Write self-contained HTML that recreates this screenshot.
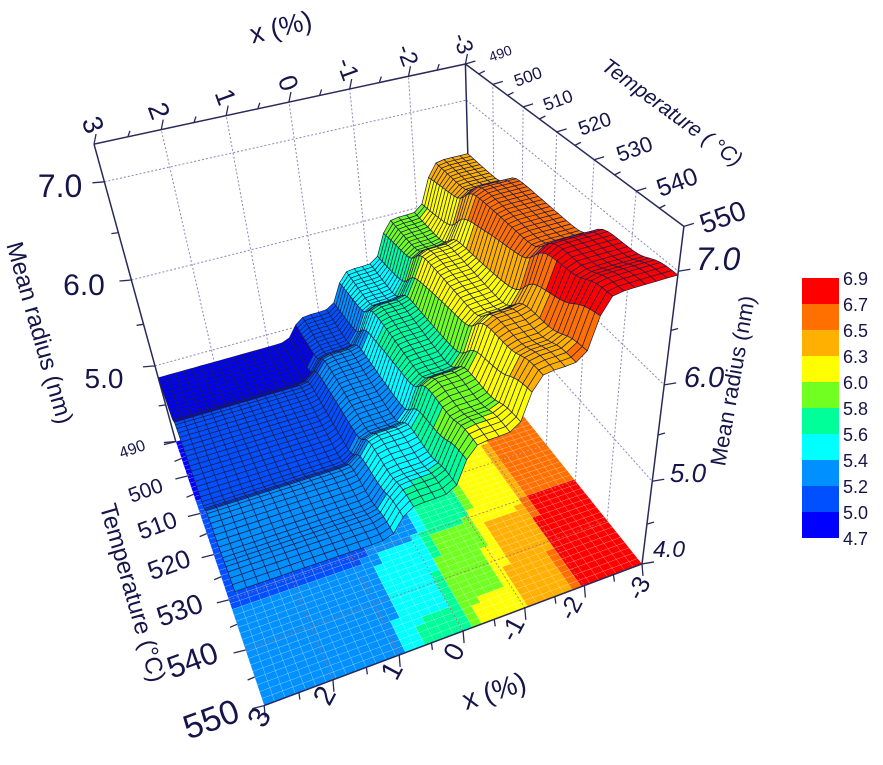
<!DOCTYPE html>
<html><head><meta charset="utf-8"><style>
html,body{margin:0;padding:0;background:#fff;}
svg{display:block;font-family:"Liberation Sans",sans-serif;}
</style></head><body>
<svg id="s" width="883" height="765" viewBox="0 0 883 765" xmlns="http://www.w3.org/2000/svg">
<g id="walls"></g><g id="floor"></g><g id="back"></g><g id="surf"></g><g id="front"></g>
<g fill="#15154a">
<text transform="translate(283,36) rotate(-14)" font-size="27" text-anchor="middle">x (%)</text>
<text transform="translate(84,128) rotate(70)" font-size="28" text-anchor="middle">3</text>
<text transform="translate(150,114) rotate(70)" font-size="28" text-anchor="middle">2</text>
<text transform="translate(217,100) rotate(70)" font-size="27" text-anchor="middle">1</text>
<text transform="translate(280,86) rotate(70)" font-size="26" text-anchor="middle">0</text>
<text transform="translate(340,72) rotate(70)" font-size="25" text-anchor="middle">-1</text>
<text transform="translate(400,58) rotate(70)" font-size="24" text-anchor="middle">-2</text>
<text transform="translate(456,46) rotate(70)" font-size="23" text-anchor="middle">-3</text>
<text transform="translate(502,58) rotate(-20)" font-size="14" text-anchor="middle">490</text>
<text transform="translate(530,82) rotate(-20)" font-size="17" text-anchor="middle">500</text>
<text transform="translate(560,106) rotate(-20)" font-size="18" text-anchor="middle">510</text>
<text transform="translate(597,130) rotate(-20)" font-size="20" text-anchor="middle">520</text>
<text transform="translate(637,156) rotate(-20)" font-size="22" text-anchor="middle">530</text>
<text transform="translate(680,190) rotate(-20)" font-size="25" text-anchor="middle">540</text>
<text transform="translate(726,226) rotate(-20)" font-size="28" text-anchor="middle">550</text>
<text transform="translate(668,118) rotate(36)" font-size="21" font-style="italic" text-anchor="middle">Temperature ( °C)</text>
<text transform="translate(718,270)" font-size="32" font-style="italic" text-anchor="middle">7.0</text>
<text transform="translate(704,387)" font-size="29" font-style="italic" text-anchor="middle">6.0</text>
<text transform="translate(688,482)" font-size="26" font-style="italic" text-anchor="middle">5.0</text>
<text transform="translate(669,557)" font-size="23" font-style="italic" text-anchor="middle">4.0</text>
<text transform="translate(740,382) rotate(-80)" font-size="22" text-anchor="middle">Mean radius (nm)</text>
<text transform="translate(60,197)" font-size="32" text-anchor="middle">7.0</text>
<text transform="translate(84,295)" font-size="30" text-anchor="middle">6.0</text>
<text transform="translate(104,388)" font-size="28" text-anchor="middle">5.0</text>
<text transform="translate(32,335) rotate(74)" font-size="24" text-anchor="middle">Mean radius (nm)</text>
<text transform="translate(134,454) rotate(-20)" font-size="16" text-anchor="middle">490</text>
<text transform="translate(148,497) rotate(-20)" font-size="21" text-anchor="middle">500</text>
<text transform="translate(160,533) rotate(-20)" font-size="24" text-anchor="middle">510</text>
<text transform="translate(172,573) rotate(-20)" font-size="26" text-anchor="middle">520</text>
<text transform="translate(183,619) rotate(-20)" font-size="28" text-anchor="middle">530</text>
<text transform="translate(196,670) rotate(-20)" font-size="31" text-anchor="middle">540</text>
<text transform="translate(215,730) rotate(-20)" font-size="34" text-anchor="middle">550</text>
<text transform="translate(125,595) rotate(74)" font-size="24" text-anchor="middle">Temperature (°C)</text>
<text transform="translate(268,722) rotate(-62)" font-size="30" text-anchor="middle">3</text>
<text transform="translate(333,700) rotate(-62)" font-size="29" text-anchor="middle">2</text>
<text transform="translate(400,675) rotate(-62)" font-size="28" text-anchor="middle">1</text>
<text transform="translate(462,656) rotate(-62)" font-size="27" text-anchor="middle">0</text>
<text transform="translate(520,633) rotate(-62)" font-size="26" text-anchor="middle">-1</text>
<text transform="translate(578,612) rotate(-62)" font-size="25" text-anchor="middle">-2</text>
<text transform="translate(646,592) rotate(-62)" font-size="25" text-anchor="middle">-3</text>
<text transform="translate(497,700) rotate(-18)" font-size="28" text-anchor="middle">x (%)</text>
</g>
<g>
<rect x="802" y="278" width="37" height="26" fill="#ff0000"/>
<rect x="802" y="304" width="37" height="26" fill="#ff7000"/>
<rect x="802" y="330" width="37" height="26" fill="#ffb000"/>
<rect x="802" y="356" width="37" height="26" fill="#ffff00"/>
<rect x="802" y="382" width="37" height="26" fill="#70ff20"/>
<rect x="802" y="408" width="37" height="26" fill="#00ff99"/>
<rect x="802" y="434" width="37" height="26" fill="#00ffff"/>
<rect x="802" y="460" width="37" height="26" fill="#0090ff"/>
<rect x="802" y="486" width="37" height="26" fill="#0050ff"/>
<rect x="802" y="512" width="37" height="26" fill="#0000ff"/>
<g fill="#15154a" font-size="18">
<text x="843" y="285">6.9</text><text x="843" y="311">6.7</text><text x="843" y="337">6.5</text>
<text x="843" y="363">6.3</text><text x="843" y="389">6.0</text><text x="843" y="415">5.8</text>
<text x="843" y="441">5.6</text><text x="843" y="467">5.4</text><text x="843" y="493">5.2</text>
<text x="843" y="519">5.0</text><text x="843" y="545">4.7</text>
</g></g>
</svg>
<script>
(function(){
var ZT=7.35;
var pts=[[3,550,4,262,705],[-3,550,4,637,566],[3,490,4,178,442],[3,490,5,155,368],[3,490,6,130,280],[3,490,7,103,180],
[-3,550,5,657,477],[-3,550,6,670,383],[-3,550,7,679,270],[3,490,ZT,97,144],[0,490,ZT,288,101],[-3,490,ZT,464,64],[-3,550,ZT,680,233]];
function nrm(x,T,z){return [x/3,(T-520)/30,(z-5.5)/1.5];}
var N=11,A=[],i,j,k;
for(i=0;i<N;i++){A.push([]);for(j=0;j<=N;j++)A[i].push(0);}
function addRow(r,b){for(var a=0;a<N;a++){for(var c=0;c<N;c++)A[a][c]+=r[a]*r[c];A[a][N]+=r[a]*b;}}
pts.forEach(function(p){var q=nrm(p[0],p[1],p[2]);var u=(p[3]-440)/300,v=(p[4]-400)/300;
addRow([q[0],q[1],q[2],1,0,0,0,0,-u*q[0],-u*q[1],-u*q[2]],u);
addRow([0,0,0,0,q[0],q[1],q[2],1,-v*q[0],-v*q[1],-v*q[2]],v);});
for(i=0;i<N;i++){var mx=i;for(j=i+1;j<N;j++)if(Math.abs(A[j][i])>Math.abs(A[mx][i]))mx=j;
var t=A[i];A[i]=A[mx];A[mx]=t;
for(j=0;j<N;j++){if(j==i)continue;var f=A[j][i]/A[i][i];for(k=i;k<=N;k++)A[j][k]-=f*A[i][k];}}
var P=[];for(i=0;i<N;i++)P.push(A[i][N]/A[i][i]);
function pr(x,T,z){var q=nrm(x,T,z);var w=P[8]*q[0]+P[9]*q[1]+P[10]*q[2]+1;
var u=(P[0]*q[0]+P[1]*q[1]+P[2]*q[2]+P[3])/w,v=(P[4]*q[0]+P[5]*q[1]+P[6]*q[2]+P[7])/w;
return [u*300+440,v*300+400,w];}
var sgn=(pr(-3,490,4)[2]>pr(3,550,4)[2])?1:-1;
function S(t,w){return 1/(1+Math.exp(-t/w));}
function zf(x,T){var v=(T-490)/60,d=0.3*v;
var b=4.85+0.25*S(0.5+d-x,0.06)+0.4*S(-0.4+d-x,0.06)+0.45*S(-1.3+d-x,0.06)+0.5*S(-2.2+d-x,0.06);
var g=0.2*S(v-0.25,0.02)+0.22*S(v-0.68,0.02)+0.1*S(v-0.9,0.02);return b+g;}
var edges=[5.0,5.2,5.4,5.6,5.8,6.0,6.3,6.5,6.7];
var cols=["#0000ff","#0050ff","#0090ff","#00ffff","#00ff99","#70ff20","#ffff00","#ffb000","#ff7000","#ff0000"];
function col(z){var c=0;while(c<edges.length&&z>=edges[c])c++;return cols[c];}
var NS="http://www.w3.org/2000/svg";
function el(g,n,a){var e=document.createElementNS(NS,n);for(var k in a)e.setAttribute(k,a[k]);document.getElementById(g).appendChild(e);return e;}
function line(g,a,b,st,w,dash){var p=pr(a[0],a[1],a[2]),q=pr(b[0],b[1],b[2]);
var o={x1:p[0].toFixed(1),y1:p[1].toFixed(1),x2:q[0].toFixed(1),y2:q[1].toFixed(1),stroke:st,"stroke-width":w};
if(dash)o["stroke-dasharray"]=dash;el(g,"line",o);}
var GD="#8a88b8";
[-2,-1,0,1,2].forEach(function(x){line("walls",[x,490,4],[x,490,ZT],GD,1,"2,2");});
[5,6,7].forEach(function(z){line("walls",[3,490,z],[-3,490,z],GD,1,"2,2");line("walls",[-3,490,z],[-3,550,z],GD,1,"2,2");});
[500,510,520,530,540].forEach(function(T){line("walls",[-3,T,4],[-3,T,ZT],GD,1,"2,2");});
var nx=40,nt=50,xi,ti;
function X(i){return 3-6*i/nx;}function Tt(j){return 490+60*j/nt;}
for(xi=0;xi<nx;xi++)for(ti=0;ti<nt;ti++){
var xc=(X(xi)+X(xi+1))/2,tc=(Tt(ti)+Tt(ti+1))/2,c=col(zf(xc,tc));
var a=pr(X(xi),Tt(ti),4),b=pr(X(xi+1),Tt(ti),4),d=pr(X(xi+1),Tt(ti+1),4),e=pr(X(xi),Tt(ti+1),4);
el("floor","polygon",{points:[a,b,d,e].map(function(p){return p[0].toFixed(1)+","+p[1].toFixed(1);}).join(" "),fill:c,stroke:"#ffffff","stroke-opacity":"0.3","stroke-width":"0.5"});}
[2,1,0,-1,-2].forEach(function(x){line("floor",[x,490,4],[x,550,4],"#b07070",0.8,"2,2");});
[500,510,520,530,540].forEach(function(T){line("floor",[3,T,4],[-3,T,4],"#b07070",0.8,"2,2");});
var AX="#2a2a5a";
line("back",[3,490,4],[3,490,ZT],AX,1.5);
line("back",[3,490,ZT],[-3,490,ZT],AX,1.5);
line("back",[-3,490,ZT],[-3,550,ZT],AX,1.5);
line("back",[-3,490,4],[-3,490,ZT],AX,1.5);
for(var x=3;x>=-3;x-=0.5){var p=pr(x,490,ZT);el("back","line",{x1:p[0],y1:p[1],x2:p[0]+2,y2:p[1]-(x%1==0?10:6),stroke:AX,"stroke-width":1.3});}
for(var T=490;T<=550;T+=5){var p=pr(-3,T,ZT);el("back","line",{x1:p[0],y1:p[1],x2:p[0]+(T%10==0?10:6),y2:p[1]-3,stroke:AX,"stroke-width":1.3});}
for(var z=4;z<=7;z+=0.5){var p=pr(3,490,z);el("back","line",{x1:p[0],y1:p[1],x2:p[0]-(z%1==0?12:7),y2:p[1]+1,stroke:AX,"stroke-width":1.3});}
for(var T=490;T<=550;T+=5){var p=pr(3,T,4);el("back","line",{x1:p[0],y1:p[1],x2:p[0]-(T%10==0?12:7),y2:p[1]+3,stroke:AX,"stroke-width":1.3});}
var quads=[];
for(xi=0;xi<nx;xi++)for(ti=0;ti<nt;ti++){
var vs=[[X(xi),Tt(ti)],[X(xi+1),Tt(ti)],[X(xi+1),Tt(ti+1)],[X(xi),Tt(ti+1)]];
var zs=vs.map(function(q){return zf(q[0],q[1]);});
var ps=vs.map(function(q,k){return pr(q[0],q[1],zs[k]);});
var zc=(zs[0]+zs[1]+zs[2]+zs[3])/4;
var dep=(ps[0][2]+ps[1][2]+ps[2][2]+ps[3][2])/4*sgn;
quads.push({p:ps,c:col(zc),d:dep});}
quads.sort(function(a,b){return b.d-a.d;});
var frag=document.createDocumentFragment();
quads.forEach(function(q){var e=document.createElementNS(NS,"polygon");
e.setAttribute("points",q.p.map(function(p){return p[0].toFixed(1)+","+p[1].toFixed(1);}).join(" "));
e.setAttribute("fill",q.c);e.setAttribute("stroke","#1c1c48");e.setAttribute("stroke-width","0.7");e.setAttribute("stroke-linejoin","round");frag.appendChild(e);});
document.getElementById("surf").appendChild(frag);
line("front",[-3,550,4],[-3,550,ZT],AX,1.5);
line("front",[3,550,4],[-3,550,4],AX,1.5);
for(var z=4;z<=7;z+=0.5){var p=pr(-3,550,z);el("front","line",{x1:p[0],y1:p[1],x2:p[0]+(z%1==0?12:7),y2:p[1]-2,stroke:AX,"stroke-width":1.3});}
for(var x=3;x>=-3;x-=0.5){var p=pr(x,550,4);el("front","line",{x1:p[0],y1:p[1],x2:p[0]+1,y2:p[1]+(x%1==0?12:7),stroke:AX,"stroke-width":1.3});}
})();
</script>
</body></html>
